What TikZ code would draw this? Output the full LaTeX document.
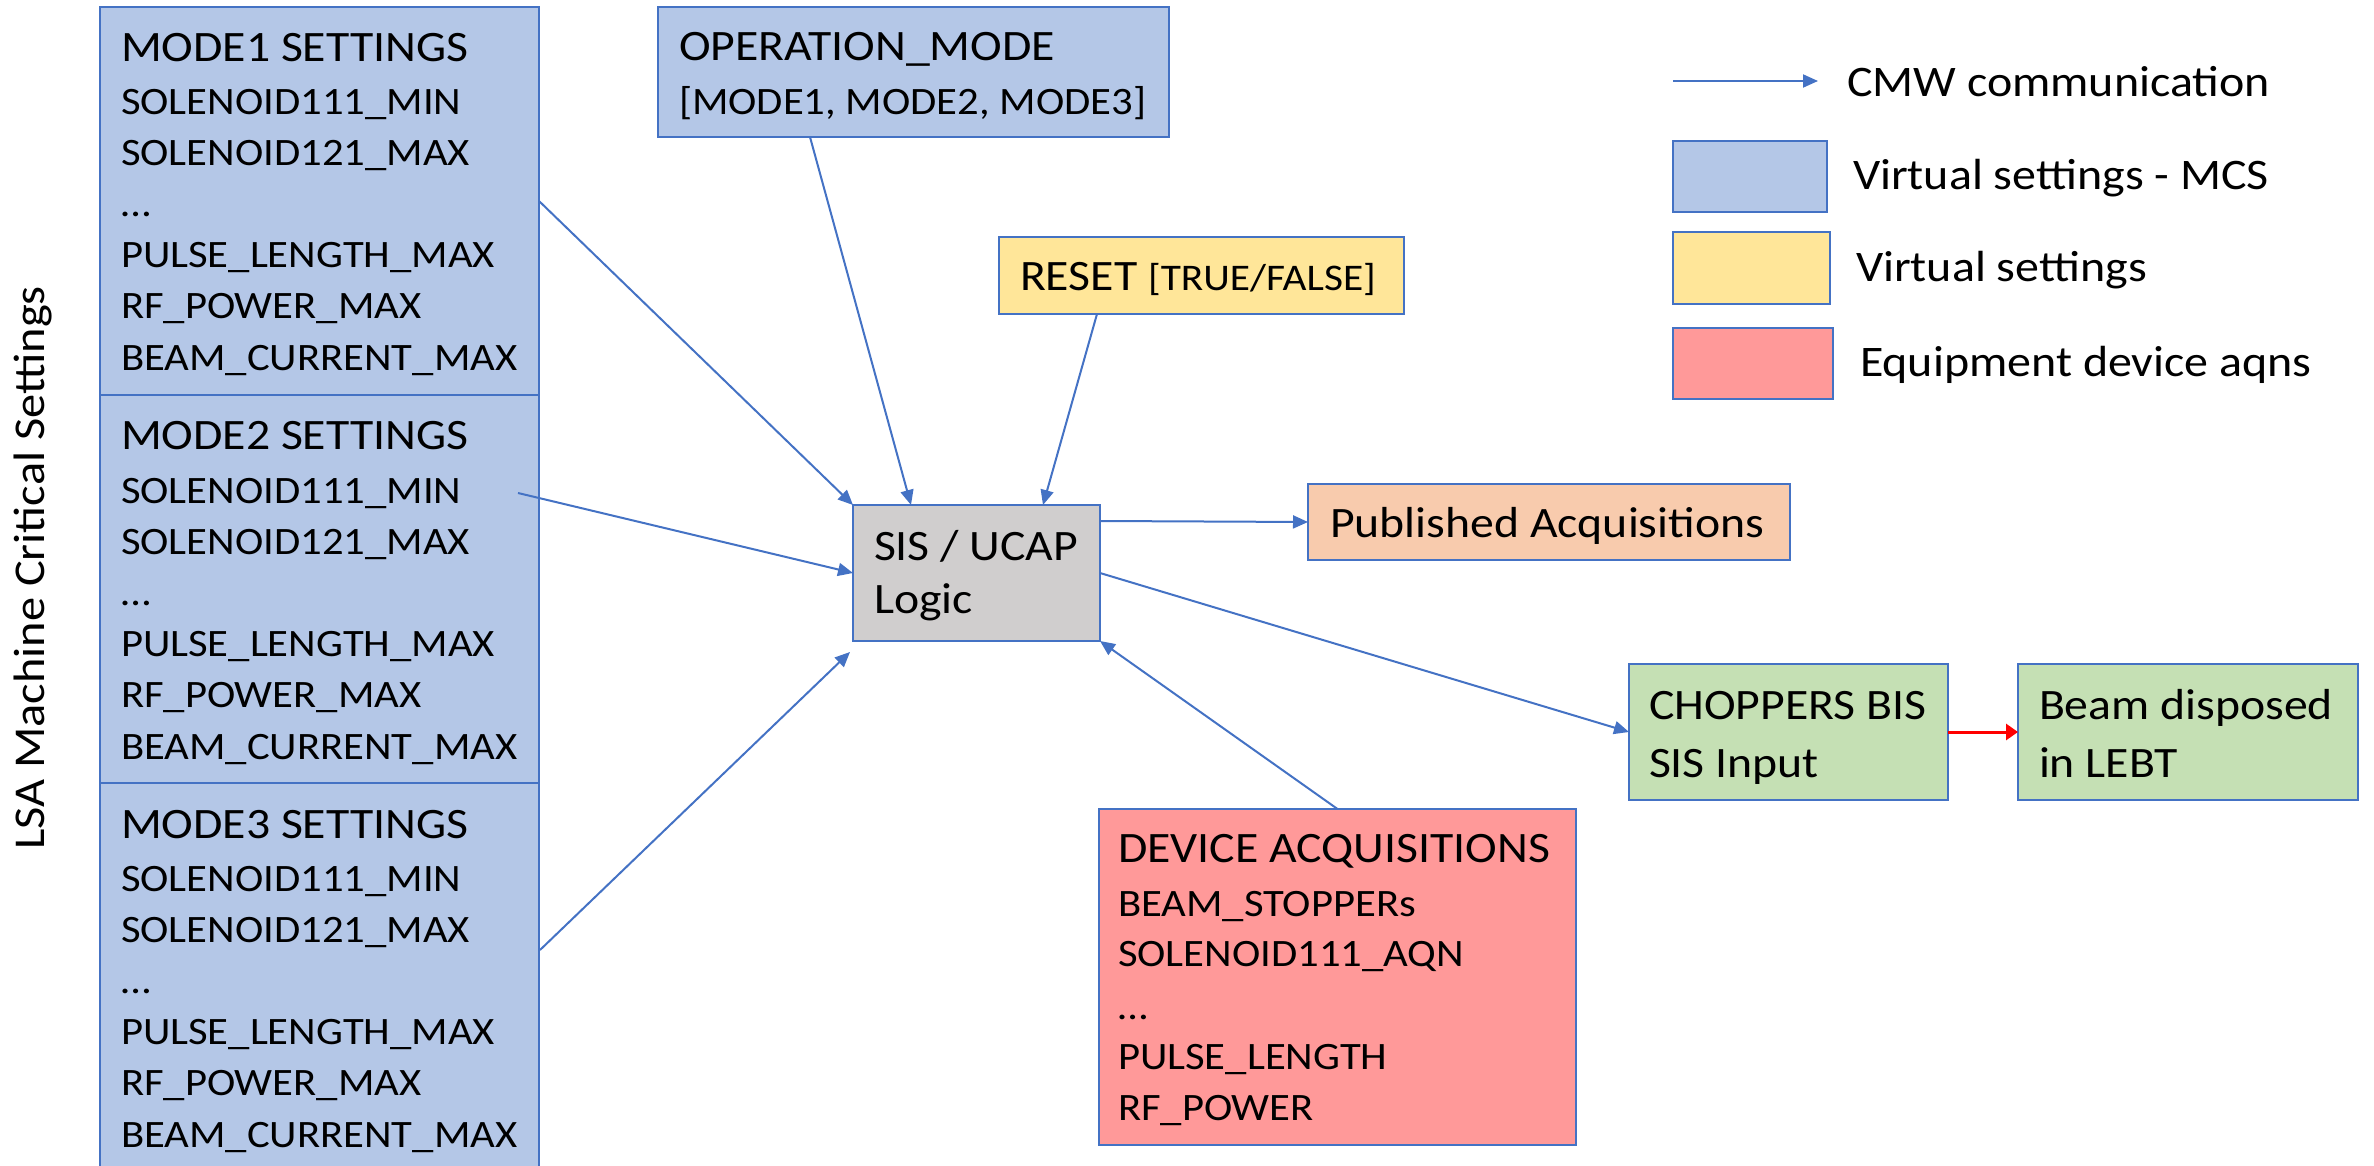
\documentclass[tikz,border=0pt]{standalone}
\usepackage{fontspec}
\setmainfont{Carlito}[FakeStretch=1.1]
\usetikzlibrary{arrows.meta,calc}

\definecolor{cblue}{HTML}{4472C4}
\definecolor{mcsfill}{HTML}{B4C7E7}
\definecolor{vsfill}{HTML}{FFE699}
\definecolor{eqfill}{HTML}{FF9999}
\definecolor{logicfill}{HTML}{D0CECE}
\definecolor{pubfill}{HTML}{F8CBAD}
\definecolor{bisfill}{HTML}{C5E0B4}

\newcommand\fbig{\fontsize{21.7}{26}\selectfont}
\newcommand\fmid{\fontsize{19.4}{23}\selectfont}
\newcommand\fsmall{\fontsize{18.8}{22}\selectfont}
\newcommand\flegend{\fontsize{21.8}{26}\selectfont}
\newcommand\fside{\fontsize{22}{26}\selectfont}

\tikzset{
  box/.style={draw=cblue, line width=1pt, inner sep=0pt, outer sep=0pt, anchor=north west},
  lbl/.style={anchor=base west, inner sep=0pt, outer sep=0pt, font=\fmid},
  hdr/.style={lbl, font=\fbig},
  leg/.style={lbl, font=\flegend},
  flow/.style={draw=cblue, line width=1pt, -{Triangle[length=7.5pt,width=6.5pt]}},
  stop/.style={draw=red, line width=1.5pt, -{Triangle[length=6pt,width=8pt]}},
}

\begin{document}
\begin{tikzpicture}[x=0.5pt, y=-0.5pt]
\clip (0,0) rectangle (2374,1166);

% side title
\node[font=\fside, rotate=90, inner sep=0pt] (side) at (33,568) {LSA Machine Critical Settings};

% the three machine critical setting groups
\foreach \i/\y in {1/7, 2/395, 3/783} {
  \node[box, fill=mcsfill, minimum width=219.5pt, minimum height=194pt] (mode\i) at (100,\y) {};
  \node[hdr] (mode\i h) at ($(mode\i.north west)+(21,55)$) {MODE\i\ SETTINGS};
  \node[lbl] (mode\i a) at ($(mode\i.north west)+(21,108)$) {SOLENOID111\_MIN};
  \node[lbl] (mode\i b) at ($(mode\i.north west)+(21,159)$) {SOLENOID121\_MAX};
  \node[lbl] (mode\i c) at ($(mode\i.north west)+(21,210)$) {…};
  \node[lbl] (mode\i d) at ($(mode\i.north west)+(21,261)$) {PULSE\_LENGTH\_MAX};
  \node[lbl] (mode\i e) at ($(mode\i.north west)+(21,312)$) {RF\_POWER\_MAX};
  \node[lbl] (mode\i f) at ($(mode\i.north west)+(21,364)$) {BEAM\_CURRENT\_MAX};
}

% operation mode selector
\node[box, fill=mcsfill, minimum width=255.5pt, minimum height=65pt] (opmode) at (658,7) {};
\node[hdr] (opmodeh) at (679,61) {OPERATION\_MODE};
\node[lbl] (opmodev) at (679,115) {[MODE1, MODE2, MODE3]};

% reset flag
\node[box, fill=vsfill, minimum width=202.5pt, minimum height=38.5pt] (reset) at (999,237) {};
\node[hdr] (resett) at (1020,291) {RESET {\fsmall[TRUE/FALSE]}};

% logic
\node[box, fill=logicfill, minimum width=123.5pt, minimum height=68pt] (sis) at (853,505) {};
\node[hdr] (sisa) at (874,560) {SIS / UCAP};
\node[hdr] (sisb) at (874,613) {Logic};

% published acquisitions
\node[box, fill=pubfill, minimum width=241pt, minimum height=38pt] (pub) at (1308,484) {};
\node[hdr] (pubt) at (1330,538) {Published Acquisitions};

% choppers and beam dump
\node[box, fill=bisfill, minimum width=159.5pt, minimum height=68pt] (chop) at (1629,664) {};
\node[hdr] (chopa) at (1649,719) {CHOPPERS BIS};
\node[hdr] (chopb) at (1649,777) {SIS Input};
\node[box, fill=bisfill, minimum width=170pt, minimum height=68pt] (beam) at (2018,664) {};
\node[hdr] (beama) at (2039,719) {Beam disposed};
\node[hdr] (beamb) at (2039,777) {in LEBT};

% device acquisitions
\node[box, fill=eqfill, minimum width=238.5pt, minimum height=168pt] (dev) at (1099,809) {};
\node[hdr] (devh) at (1118,862) {DEVICE ACQUISITIONS};
\node[lbl] (deva) at (1118,916) {BEAM\_STOPPERs};
\node[lbl] (devb) at (1118,966) {SOLENOID111\_AQN};
\node[lbl] (devc) at (1118,1019) {…};
\node[lbl] (devd) at (1118,1069) {PULSE\_LENGTH};
\node[lbl] (deve) at (1118,1120) {RF\_POWER};

% connector end points
\coordinate (m2out) at (518,493);
\coordinate (m3out) at (540,950);
\coordinate (sisbl) at (850,652);
\coordinate (opout) at (810,137);
\coordinate (sisop) at (911,505);
\coordinate (rsout) at (1097,314);
\coordinate (sisrs) at (1043,505);
\coordinate (sispub) at (1100,521);

% connectors
\draw[flow] (mode1.east) -- (sis.north west);
\draw[flow] (m2out) -- (sis.west);
\draw[flow] (m3out) -- (sisbl);
\draw[flow] (opout) -- (sisop);
\draw[flow] (rsout) -- (sisrs);
\draw[flow] (sispub) -- (pub.west);
\draw[flow] (sis.east) -- (chop.west);
\draw[flow] (dev.north) -- (sis.south east);
\draw[stop] (chop.east) -- (beam.west);

% legend
\coordinate (lgA) at (1673,81);
\coordinate (lgB) at (1818,81);
\draw[flow] (lgA) -- (lgB);
\node[leg] (lgt1) at (1847,97) {CMW communication};
\node[box, fill=mcsfill, minimum width=77pt, minimum height=35.5pt] (lg1) at (1673,141) {};
\node[leg] (lgt2) at (1853,190) {Virtual settings - MCS};
\node[box, fill=vsfill, minimum width=78.5pt, minimum height=36pt] (lg2) at (1673,232) {};
\node[leg] (lgt3) at (1856,282) {Virtual settings};
\node[box, fill=eqfill, minimum width=80pt, minimum height=35.5pt] (lg3) at (1673,328) {};
\node[leg] (lgt4) at (1860,377) {Equipment device aqns};
\end{tikzpicture}
\end{document}
